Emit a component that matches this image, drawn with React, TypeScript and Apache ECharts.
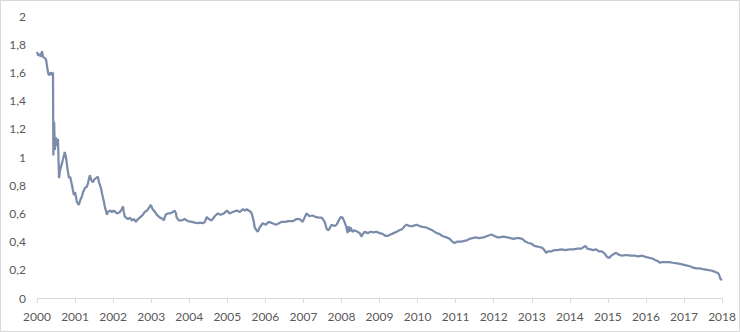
import React, { useEffect, useRef } from "react";
import * as echarts from "echarts";

const years: number[] = [
  2000.0, 2000.03, 2000.08, 2000.1, 2000.13, 2000.16, 2000.21, 2000.24, 2000.26, 2000.29,
  2000.31, 2000.37, 2000.39, 2000.42, 2000.43, 2000.45, 2000.47, 2000.5, 2000.52, 2000.55,
  2000.58, 2000.6, 2000.66, 2000.68, 2000.73, 2000.76, 2000.79, 2000.81, 2000.84, 2000.87,
  2000.92, 2000.94, 2000.97, 2001.0, 2001.05, 2001.1, 2001.13, 2001.18, 2001.21, 2001.26,
  2001.31, 2001.34, 2001.36, 2001.39, 2001.42, 2001.47, 2001.5, 2001.55, 2001.6, 2001.63,
  2001.68, 2001.71, 2001.76, 2001.78, 2001.84, 2001.86, 2001.92, 2001.97, 2002.02, 2002.1,
  2002.18, 2002.23, 2002.26, 2002.28, 2002.31, 2002.39, 2002.44, 2002.49, 2002.55, 2002.6,
  2002.62, 2002.7, 2002.78, 2002.83, 2002.89, 2002.94, 2002.99, 2003.04, 2003.1, 2003.15,
  2003.23, 2003.31, 2003.33, 2003.38, 2003.44, 2003.49, 2003.57, 2003.62, 2003.65, 2003.67,
  2003.73, 2003.8, 2003.88, 2003.96, 2004.07, 2004.15, 2004.22, 2004.28, 2004.36, 2004.41,
  2004.46, 2004.51, 2004.59, 2004.67, 2004.75, 2004.83, 2004.91, 2004.99, 2005.06, 2005.14,
  2005.25, 2005.33, 2005.41, 2005.46, 2005.51, 2005.56, 2005.62, 2005.64, 2005.69, 2005.72,
  2005.77, 2005.8, 2005.85, 2005.93, 2006.01, 2006.09, 2006.19, 2006.27, 2006.32, 2006.43,
  2006.51, 2006.61, 2006.72, 2006.82, 2006.9, 2006.98, 2007.03, 2007.08, 2007.16, 2007.24,
  2007.32, 2007.4, 2007.48, 2007.56, 2007.61, 2007.66, 2007.74, 2007.82, 2007.87, 2007.92,
  2007.98, 2008.03, 2008.08, 2008.13, 2008.16, 2008.19, 2008.21, 2008.24, 2008.29, 2008.34,
  2008.42, 2008.48, 2008.53, 2008.55, 2008.61, 2008.69, 2008.76, 2008.84, 2008.92, 2009.0,
  2009.08, 2009.16, 2009.21, 2009.29, 2009.37, 2009.45, 2009.52, 2009.6, 2009.66, 2009.71,
  2009.79, 2009.87, 2009.97, 2010.05, 2010.13, 2010.23, 2010.31, 2010.39, 2010.5, 2010.57,
  2010.65, 2010.76, 2010.84, 2010.91, 2010.97, 2011.05, 2011.1, 2011.15, 2011.23, 2011.31,
  2011.36, 2011.44, 2011.52, 2011.62, 2011.73, 2011.83, 2011.94, 2012.02, 2012.1, 2012.15,
  2012.25, 2012.36, 2012.44, 2012.52, 2012.6, 2012.67, 2012.75, 2012.83, 2012.91, 2012.99,
  2013.07, 2013.15, 2013.22, 2013.28, 2013.33, 2013.38, 2013.43, 2013.51, 2013.59, 2013.67,
  2013.78, 2013.88, 2013.99, 2014.09, 2014.2, 2014.3, 2014.41, 2014.46, 2014.54, 2014.62,
  2014.69, 2014.77, 2014.85, 2014.93, 2014.98, 2015.04, 2015.09, 2015.17, 2015.22, 2015.3,
  2015.38, 2015.48, 2015.59, 2015.69, 2015.8, 2015.9, 2016.01, 2016.09, 2016.17, 2016.24,
  2016.32, 2016.37, 2016.43, 2016.5, 2016.61, 2016.71, 2016.82, 2016.92, 2017.0, 2017.08,
  2017.16, 2017.24, 2017.32, 2017.4, 2017.5, 2017.61, 2017.71, 2017.82, 2017.9, 2017.92,
  2017.95, 2017.97, 2018.0,
];

const values: number[] = [
  1.745, 1.72, 1.73, 1.71, 1.75, 1.71, 1.7, 1.69, 1.65, 1.6,
  1.58, 1.6, 1.58, 1.6, 1.01, 1.25, 1.05, 1.14, 1.08, 1.13,
  0.85, 0.9, 0.96, 0.98, 1.035, 1.0, 0.94, 0.9, 0.85, 0.86,
  0.8, 0.77, 0.73, 0.75, 0.68, 0.66, 0.69, 0.72, 0.75, 0.78,
  0.79, 0.815, 0.84, 0.87, 0.84, 0.82, 0.84, 0.85, 0.86, 0.82,
  0.78, 0.74, 0.68, 0.65, 0.59, 0.61, 0.62, 0.61, 0.62, 0.6,
  0.61, 0.63, 0.65, 0.61, 0.575, 0.56, 0.57, 0.55, 0.56, 0.54,
  0.55, 0.57, 0.59, 0.61, 0.62, 0.64, 0.66, 0.63, 0.61, 0.59,
  0.57, 0.56, 0.55, 0.59, 0.6, 0.6, 0.61, 0.62, 0.6, 0.57,
  0.55, 0.55, 0.56, 0.545, 0.54, 0.535, 0.53, 0.535, 0.53, 0.54,
  0.575, 0.56, 0.55, 0.58, 0.6, 0.59, 0.6, 0.62, 0.6, 0.61,
  0.62, 0.61, 0.63, 0.62, 0.63, 0.62, 0.61, 0.6, 0.55, 0.5,
  0.48, 0.47, 0.5, 0.53, 0.52, 0.54, 0.53, 0.52, 0.525, 0.54,
  0.54, 0.545, 0.545, 0.56, 0.56, 0.54, 0.57, 0.6, 0.58, 0.585,
  0.575, 0.57, 0.57, 0.54, 0.49, 0.48, 0.52, 0.51, 0.52, 0.545,
  0.575, 0.57, 0.54, 0.5, 0.46, 0.51, 0.47, 0.5, 0.47, 0.48,
  0.47, 0.46, 0.435, 0.45, 0.47, 0.46, 0.47, 0.465, 0.47, 0.46,
  0.455, 0.44, 0.44, 0.45, 0.46, 0.47, 0.48, 0.49, 0.51, 0.52,
  0.51, 0.51, 0.52, 0.51, 0.505, 0.5, 0.49, 0.48, 0.46, 0.455,
  0.44, 0.43, 0.42, 0.4, 0.39, 0.4, 0.4, 0.4, 0.405, 0.41,
  0.42, 0.425, 0.43, 0.425, 0.43, 0.44, 0.45, 0.44, 0.43, 0.43,
  0.435, 0.43, 0.425, 0.42, 0.425, 0.425, 0.42, 0.4, 0.39, 0.385,
  0.37, 0.365, 0.36, 0.355, 0.34, 0.32, 0.33, 0.33, 0.34, 0.34,
  0.345, 0.34, 0.345, 0.345, 0.35, 0.35, 0.37, 0.35, 0.345, 0.34,
  0.345, 0.33, 0.33, 0.31, 0.29, 0.285, 0.3, 0.315, 0.32, 0.305,
  0.3, 0.305, 0.3, 0.3, 0.295, 0.3, 0.29, 0.285, 0.28, 0.27,
  0.26, 0.25, 0.255, 0.255, 0.255, 0.25, 0.245, 0.24, 0.235, 0.23,
  0.225, 0.215, 0.21, 0.21, 0.205, 0.2, 0.195, 0.185, 0.175, 0.165,
  0.14, 0.13, 0.135,
];

const yTicks = [0, 0.2, 0.4, 0.6, 0.8, 1, 1.2, 1.4, 1.6, 1.8, 2];

export default function App() {
  const ref = useRef<HTMLDivElement>(null);
  useEffect(() => {
    document.body.style.margin = "0";
    if (!ref.current) return;
    const chart = echarts.init(ref.current, undefined, { renderer: "svg" });
    const font = "Lato, 'Open Sans', sans-serif";
    chart.setOption({
      animation: false,
      backgroundColor: "#ffffff",
      grid: { left: 36, right: 16, top: 15, bottom: 33 },
      xAxis: {
        type: "value",
        min: 2000,
        max: 2018,
        interval: 1,
        axisLine: { show: true, lineStyle: { color: "#d9d9d9", width: 1 } },
        axisTick: { show: true, length: 5, lineStyle: { color: "#d9d9d9" } },
        splitLine: { show: false },
        axisLabel: {
          color: "#595959",
          fontSize: 12,
          fontFamily: font,
          margin: 12,
          formatter: (v: number) => String(Math.round(v)),
        },
      },
      yAxis: {
        type: "value",
        min: 0,
        max: 2,
        interval: 0.2,
        axisLine: { show: false },
        axisTick: { show: false },
        splitLine: { show: false },
        axisLabel: {
          color: "#595959",
          fontSize: 12,
          fontFamily: font,
          margin: 11,
          formatter: (v: number) => {
            const t = yTicks.find((x) => Math.abs(x - v) < 1e-6);
            return String(t !== undefined ? t : v).replace(".", ",");
          },
        },
      },
      series: [
        {
          type: "line",
          data: years.map((y, i) => [y, values[i]]),
          showSymbol: false,
          symbol: "none",
          lineStyle: { color: "#7b8cab", width: 2.25 },
        },
      ],
    });
    return () => chart.dispose();
  }, []);
  return (
    <div
      ref={ref}
      style={{
        width: 740,
        height: 332,
        boxSizing: "border-box",
        border: "1px solid #d9d9d9",
        background: "#fff",
      }}
    />
  );
}
